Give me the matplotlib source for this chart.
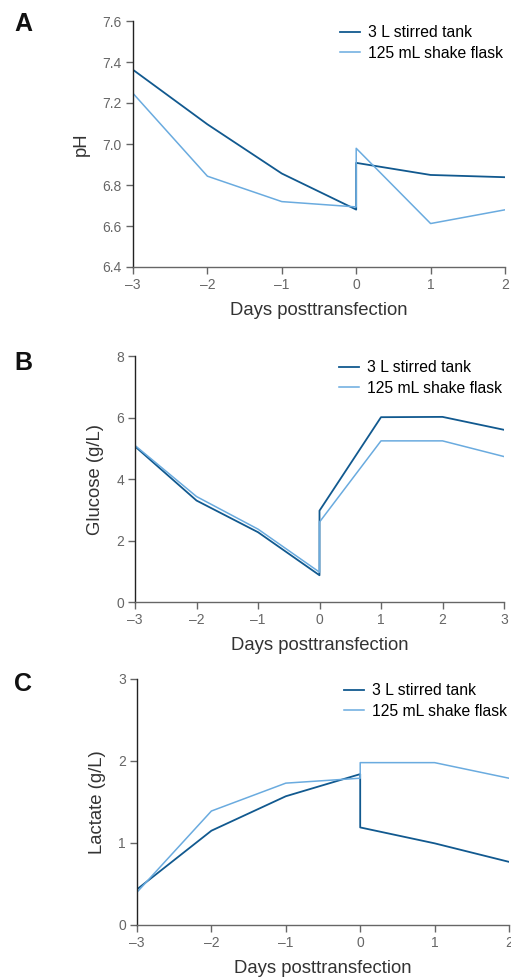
import matplotlib
matplotlib.use("Agg")
import matplotlib.pyplot as plt

plt.rcParams['font.family'] = ['Liberation Sans', 'DejaVu Sans']
plt.rcParams['axes.unicode_minus'] = True

days_ab = [-3, -2, -1, 0, 0, 1, 2]
days_b = [-3, -2, -1, 0, 0, 1, 2, 3]

ph_tank = [7.362, 7.096, 6.856, 6.68, 6.908, 6.849, 6.838]
ph_flask = [7.247, 6.843, 6.719, 6.693, 6.979, 6.612, 6.679]

glc_tank = [5.06, 3.30, 2.27, 0.87, 2.97, 6.01, 6.02, 5.60]
glc_flask = [5.09, 3.43, 2.37, 0.97, 2.60, 5.24, 5.24, 4.73]

lac_tank = [0.435, 1.15, 1.57, 1.84, 1.19, 0.996, 0.77]
lac_flask = [0.40, 1.39, 1.73, 1.79, 1.98, 1.98, 1.79]

labels = ["3 L stirred tank", "125 mL shake flask"]
dark = "#11598f"
light = "#6aabdf"

W, H = 511, 977
fig = plt.figure(figsize=(W / 100, H / 100), dpi=100)


def make_ax(l, r, t, b):
    return fig.add_axes([l / W, 1 - b / H, (r - l) / W, (b - t) / H])


def style(ax, xt, yt, ylim, ylabel, yfmt):
    ax.set_xlim(xt[0], xt[-1])
    ax.set_ylim(*ylim)
    ax.set_xticks(xt)
    ax.set_xticklabels([str(v).replace("-", "\u2013") for v in xt])
    ax.set_yticks(yt)
    ax.set_yticklabels([yfmt.format(v) for v in yt])
    for s in ["top", "right"]:
        ax.spines[s].set_visible(False)
    ax.spines["left"].set_color("#222222")
    ax.spines["bottom"].set_color("#666666")
    ax.spines["left"].set_linewidth(1.0)
    ax.spines["bottom"].set_linewidth(1.0)
    ax.tick_params(direction="out", length=5, width=1, colors="#666666",
                   labelsize=10, labelcolor="#666666", pad=3)
    ax.set_xlabel("Days posttransfection", fontsize=13.3, color="#333333", labelpad=7)
    ax.set_ylabel(ylabel, fontsize=13.3, color="#333333", labelpad=9)
    ax.legend(loc="upper right", frameon=False, fontsize=11.3, handlelength=1.3,
              handletextpad=0.5, labelspacing=0.35, borderaxespad=0.1,
              bbox_to_anchor=(1.016, 1.015))


axA = make_ax(133, 505, 21, 267)
axA.plot(days_ab, ph_tank, color=dark, lw=1.3, label=labels[0])
axA.plot(days_ab, ph_flask, color=light, lw=1.1, label=labels[1])
style(axA, [-3, -2, -1, 0, 1, 2], [6.4, 6.6, 6.8, 7.0, 7.2, 7.4, 7.6], (6.4, 7.6), "pH", "{:.1f}")

axB = make_ax(135, 504, 356, 602)
axB.plot(days_b, glc_tank, color=dark, lw=1.3, label=labels[0])
axB.plot(days_b, glc_flask, color=light, lw=1.1, label=labels[1])
style(axB, [-3, -2, -1, 0, 1, 2, 3], [0, 2, 4, 6, 8], (0, 8), "Glucose (g/L)", "{:d}")

axC = make_ax(137, 509, 679, 925)
axC.plot(days_ab, lac_tank, color=dark, lw=1.3, label=labels[0])
axC.plot(days_ab, lac_flask, color=light, lw=1.1, label=labels[1])
style(axC, [-3, -2, -1, 0, 1, 2], [0, 1, 2, 3], (0, 3), "Lactate (g/L)", "{:d}")

for letter, y in [("A", 24), ("B", 363), ("C", 684)]:
    fig.text(14 / W, 1 - y / H, letter, fontsize=18, fontweight="bold",
             color="#111111", va="center", ha="left")

fig.savefig("out.png", dpi=100)
